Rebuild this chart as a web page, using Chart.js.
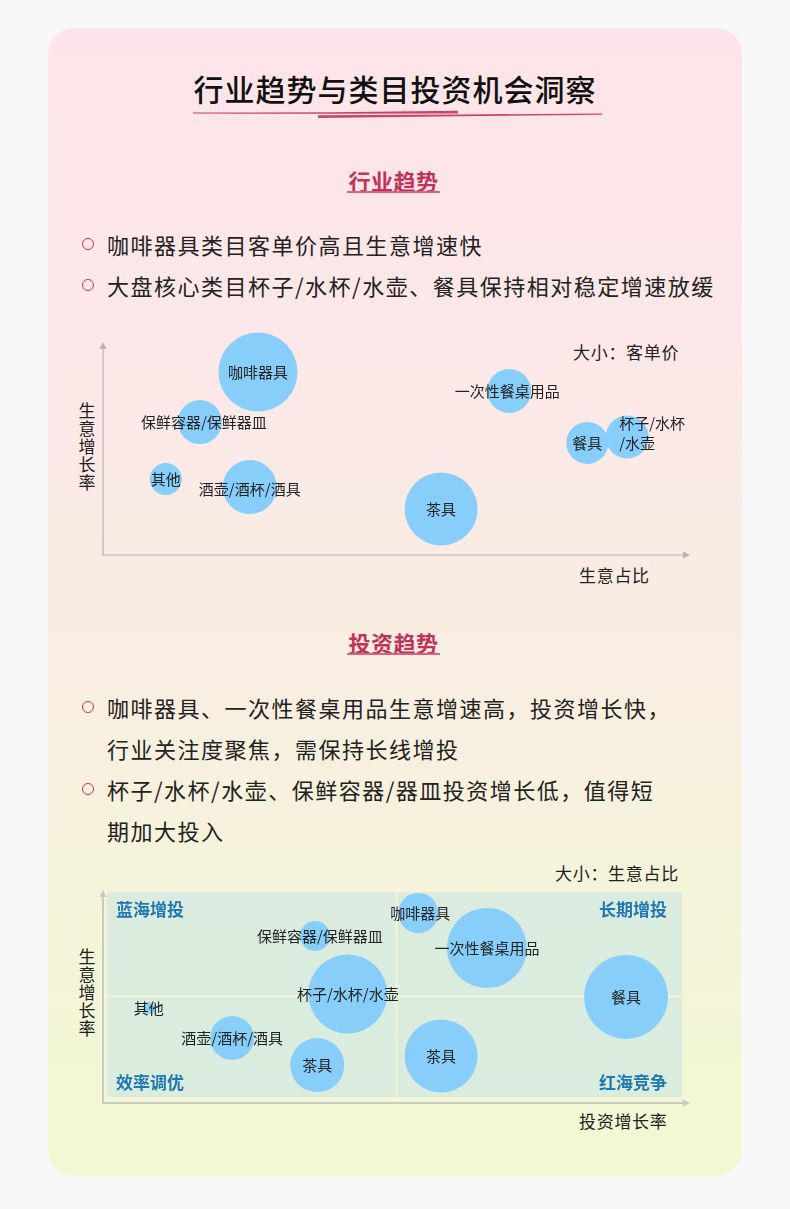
<!DOCTYPE html>
<html>
<head>
<meta charset="utf-8">
<title>行业趋势与类目投资机会洞察</title>
<script src="https://cdn.jsdelivr.net/npm/chart.js@4.4.0/dist/chart.umd.min.js"></script>
<style>
  body { margin: 0; background: #f8f8f8; font-family: "Noto Sans CJK SC", "Noto Sans", sans-serif; color: #222; }
  #page { position: relative; width: 790px; height: 1209px; overflow: hidden; }
  .card { position: absolute; left: 48px; top: 28px; width: 694px; height: 1148px; border-radius: 26px;
    background: linear-gradient(180deg, #fde4ea 0%, #fbe9e7 35%, #f8efe0 60%, #f4f5d8 80%, #f2f8d3 100%); }
  .abs { position: absolute; white-space: nowrap; }
  .title { left: 0; width: 790px; text-align: center; top: 66px; font-size: 30px; line-height: 44px; letter-spacing: 1px; color: #111; font-weight: 500; }
  .sec { left: 0; width: 787px; text-align: center; font-size: 22px; font-weight: bold; color: #c0335b; line-height: 30px; letter-spacing: 0.5px; }
  .uline { height: 2px; background: #d4637f; }
  .bullets { left: 107px; font-size: 22px; line-height: 41px; letter-spacing: 1.5px; color: #222; }
  .dot { width: 10px; height: 10px; border: 1.5px solid #c8375e; border-radius: 50%; }
  .axt { font-size: 17px; letter-spacing: 0.7px; color: #222; line-height: 24px; }
  .vt { font-size: 17px; line-height: 18px; width: 20px; text-align: center; color: #222; white-space: normal; }
  .chartbox { position: absolute; left: 90px; width: 620px; height: 240px; }
</style>
</head>
<body>
<div id="page">
  <div class="card"></div>

  <div class="abs title">行业趋势与类目投资机会洞察</div>
  <svg class="abs" style="left:0;top:0" width="790" height="140">
    <path d="M193 112.6 L330 112.2 L458 110.8 L458 113.6 L330 113.8 L193 113.6 Z" fill="#c8446a"/>
    <path d="M318 115.2 L460 114.4 L602 113.6 L602 114.8 L460 116.2 L318 118 Z" fill="#c8446a"/>
  </svg>

  <!-- 行业趋势 -->
  <div class="abs sec" style="top:165px">行业趋势</div>
  <div class="abs uline" style="left:347px;top:191px;width:93px"></div>

  <div class="abs dot" style="left:81.5px;top:237.5px"></div>
  <div class="abs dot" style="left:81.5px;top:278.5px"></div>
  <div class="abs bullets" style="top:223.5px">咖啡器具类目客单价高且生意增速快<br>大盘核心类目杯子/水杯/水壶、餐具保持相对稳定增速放缓</div>

  <div class="abs axt" style="left:573px;top:340px">大小：客单价</div>
  <div class="abs vt" style="left:77px;top:401px">生<br>意<br>增<br>长<br>率</div>
  <div class="abs axt" style="left:579px;top:563px">生意占比</div>
  <div class="chartbox" style="top:330px"><canvas id="trend"></canvas></div>

  <!-- 投资趋势 -->
  <div class="abs sec" style="top:627px">投资趋势</div>
  <div class="abs uline" style="left:347px;top:653px;width:93px"></div>

  <div class="abs dot" style="left:81.5px;top:700.5px"></div>
  <div class="abs dot" style="left:81.5px;top:782.5px"></div>
  <div class="abs bullets" style="top:686.5px">咖啡器具、一次性餐桌用品生意增速高，投资增长快，<br>行业关注度聚焦，需保持长线增投<br>杯子/水杯/水壶、保鲜容器/器皿投资增长低，值得短<br>期加大投入</div>

  <div class="abs axt" style="left:555px;top:861px">大小：生意占比</div>
  <div class="abs vt" style="left:77px;top:947px">生<br>意<br>增<br>长<br>率</div>
  <div class="abs axt" style="left:579px;top:1109px">投资增长率</div>
  <div class="chartbox" style="top:878px"><canvas id="invest"></canvas></div>
</div>

<script>
// 图一：行业趋势（x 生意占比，y 生意增长率，气泡大小 客单价）
const categories1 = ['咖啡器具', '保鲜容器/保鲜器皿', '其他', '酒壶/酒杯/酒具', '一次性餐桌用品', '餐具', '杯子/水杯/水壶', '茶具'];
const bizShare1 = [26.4, 16.5, 10.7, 25.0, 69.2, 82.5, 89.3, 57.6];
const bizGrowth1 = [85.9, 62.4, 35.7, 31.9, 77.0, 52.6, 55.4, 21.6];
const avgPrice = [39.5, 22, 16, 27, 22, 21, 21.5, 36.5];

// 图二：投资趋势（x 投资增长率，y 生意增长率，气泡大小 生意占比）
const categories2 = ['咖啡器具', '一次性餐桌用品', '餐具', '茶具', '保鲜容器/保鲜器皿', '杯子/水杯/水壶', '其他', '酒壶/酒杯/酒具', '茶具'];
const investGrowth = [53.7, 65.4, 89.1, 57.6, 36.1, 41.7, 7.8, 22.0, 36.5];
const bizGrowth2 = [89.2, 72.8, 49.8, 22.1, 78.4, 51.2, 44.6, 30.5, 17.8];
const bizShare2 = [20, 40, 42, 36.5, 15, 39.5, 6, 22, 27];

const quadrantNames = ['蓝海增投', '长期增投', '效率调优', '红海竞争'];
const investMid = 50;
const growthMid = 50;

const BUBBLE = '#87cefa';
const FONT = '"Noto Sans CJK SC", "Noto Sans", sans-serif';

const toPoints = (xs, ys, rs) => xs.map((v, i) => ({ x: v, y: ys[i], r: rs[i] }));

// axes with arrow heads, plus optional quadrant panels
const frame = {
  id: 'frame',
  beforeDatasetsDraw(chart, args, opts) {
    const { ctx, chartArea: a, scales: { x, y } } = chart;
    ctx.save();
    if (opts.quadrants) {
      const mx = x.getPixelForValue(investMid), my = y.getPixelForValue(growthMid);
      const L = a.left + 4, R = a.right - 8, T = a.top + 2, B = a.bottom - 6;
      ctx.fillStyle = 'rgba(196,228,228,0.55)';
      ctx.fillRect(L, T, mx - 1 - L, my - 1 - T);
      ctx.fillRect(mx + 1, T, R - mx - 1, my - 1 - T);
      ctx.fillRect(L, my + 1, mx - 1 - L, B - my - 1);
      ctx.fillRect(mx + 1, my + 1, R - mx - 1, B - my - 1);

      ctx.fillStyle = '#1f78b2';
      ctx.font = 'bold 17px ' + FONT;
      ctx.textBaseline = 'middle';
      ctx.textAlign = 'left';
      ctx.fillText(quadrantNames[0], a.left + 13, a.top + 20);
      ctx.fillText(quadrantNames[2], a.left + 13, a.bottom - 20);
      ctx.textAlign = 'right';
      ctx.fillText(quadrantNames[1], a.right - 23, a.top + 20);
      ctx.fillText(quadrantNames[3], a.right - 23, a.bottom - 20);
    }
    ctx.strokeStyle = opts.color;
    ctx.fillStyle = opts.color;
    ctx.lineWidth = opts.width;
    ctx.beginPath();
    ctx.moveTo(a.left, a.top + 5);
    ctx.lineTo(a.left, a.bottom);
    ctx.lineTo(a.right - 5, a.bottom);
    ctx.stroke();
    ctx.beginPath();
    ctx.moveTo(a.left, a.top);
    ctx.lineTo(a.left - 3.5, a.top + 7);
    ctx.lineTo(a.left + 3.5, a.top + 7);
    ctx.fill();
    ctx.beginPath();
    ctx.moveTo(a.right, a.bottom);
    ctx.lineTo(a.right - 7, a.bottom - 3.5);
    ctx.lineTo(a.right - 7, a.bottom + 3.5);
    ctx.fill();
    ctx.restore();
  }
};

// category names on the bubbles
const bubbleLabels = {
  id: 'bubbleLabels',
  afterDatasetsDraw(chart, args, opts) {
    const { ctx } = chart;
    const meta = chart.getDatasetMeta(0);
    ctx.save();
    ctx.font = '15px ' + FONT;
    ctx.fillStyle = '#222';
    ctx.textBaseline = 'middle';
    meta.data.forEach((el, i) => {
      const name = opts.names[i];
      const shift = (opts.shift && opts.shift[i]) || {};
      const lines = shift.split ? name.split(shift.split) : [name];
      ctx.textAlign = shift.align || 'center';
      const x = el.x + (shift.dx || 0);
      const y0 = el.y + (shift.dy || 0) - (lines.length - 1) * 10;
      lines.forEach((t, k) => ctx.fillText(t, x, y0 + k * 20));
    });
    ctx.restore();
  }
};

function makeChart(id, names, points, frameOpts, shift) {
  return new Chart(document.getElementById(id), {
    type: 'bubble',
    data: {
      datasets: [{
        data: points,
        backgroundColor: BUBBLE,
        borderWidth: 0,
        hoverBorderWidth: 0,
        clip: false,
      }],
    },
    options: {
      responsive: true,
      maintainAspectRatio: false,
      animation: false,
      events: [],
      devicePixelRatio: 1,
      layout: { autoPadding: false, padding: { left: 13, right: 20, top: 12, bottom: 15 } },
      scales: {
        x: { type: 'linear', min: 0, max: 100, display: false },
        y: { type: 'linear', min: 0, max: 100, display: false },
      },
      plugins: {
        legend: { display: false },
        tooltip: { enabled: false },
        frame: frameOpts,
        bubbleLabels: { names, shift },
      },
    },
    plugins: [frame, bubbleLabels],
  });
}

makeChart('trend', categories1, toPoints(bizShare1, bizGrowth1, avgPrice),
  { color: '#b4b4b4', width: 1.2, quadrants: false },
  { 4: { dx: -2 }, 1: { dx: 4 }, 3: { dy: 2 }, 6: { split: /(?=\/水壶)/, align: 'left', dx: -8, dy: -4 } });

makeChart('invest', categories2, toPoints(investGrowth, bizGrowth2, bizShare2),
  { color: '#c9c9c6', width: 2, quadrants: true },
  { 0: { dx: 2 }, 4: { dx: 5 } });
</script>
</body>
</html>
